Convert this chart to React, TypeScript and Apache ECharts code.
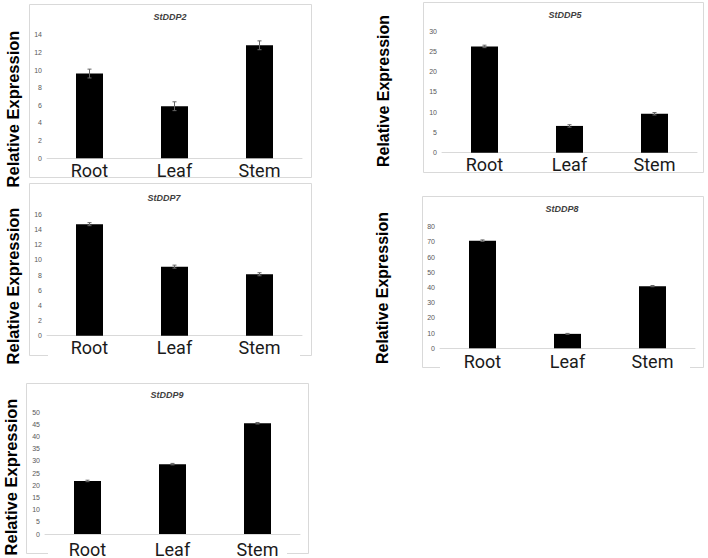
import React, { useEffect, useRef } from "react";
import * as echarts from "echarts";

const categories = ["Root", "Leaf", "Stem"];

const titles = ["StDDP2", "StDDP5", "StDDP7", "StDDP8", "StDDP9"];

const ddp2 = [9.6, 5.9, 12.8];
const err2 = [0.5, 0.5, 0.5];
const ddp5 = [26.2, 6.6, 9.6];
const err5 = [0.3, 0.3, 0.3];
const ddp7 = [14.7, 9.1, 8.1];
const err7 = [0.2, 0.2, 0.2];
const ddp8 = [70.8, 9.5, 40.9];
const err8 = [0.5, 0.3, 0.4];
const ddp9 = [21.8, 28.7, 45.5];
const err9 = [0.3, 0.3, 0.3];

const yMax = [14, 30, 16, 80, 50];
const yStep = [2, 5, 2, 10, 5];

const values = [ddp2, ddp5, ddp7, ddp8, ddp9];
const errors = [err2, err5, err7, err8, err9];

// layout (pixels)
const grids = [
  { left: 47, top: 34.7, width: 255, height: 123.6 },
  { left: 442, top: 31, width: 255, height: 121.7 },
  { left: 47, top: 214.3, width: 255, height: 121.4 },
  { left: 440, top: 226.7, width: 255, height: 121.6 },
  { left: 45, top: 412.3, width: 255, height: 121.7 },
];
const boxes = [
  { x: 29, y: 4, w: 282, h: 173 },
  { x: 423, y: 2, w: 280, h: 170 },
  { x: 29, y: 183, w: 282, h: 172 },
  { x: 422, y: 196, w: 281, h: 171 },
  { x: 26, y: 383, w: 282, h: 170 },
];
// white patches where the category labels hide the box edge
const covers = [
  { x: 48, y: 350, w: 252, h: 8 },
  { x: 440, y: 362, w: 250, h: 8 },
  { x: 48, y: 547, w: 239, h: 9 },
];
const titlePos = [
  { x: 170, y: 17 },
  { x: 565, y: 15 },
  { x: 164, y: 198 },
  { x: 562, y: 209 },
  { x: 167, y: 395 },
];
const ylabPos = [
  { x: 13, y: 109, s: 16.5 },
  { x: 383, y: 91, s: 16 },
  { x: 13, y: 286, s: 16.5 },
  { x: 382, y: 288, s: 16 },
  { x: 11, y: 477, s: 16.5 },
];
const labelMargin = [3, 3, 3, 4, 6];

export default function App() {
  const ref = useRef<HTMLDivElement>(null);
  useEffect(() => {
    if (!ref.current) return;
    const chart = echarts.init(ref.current, null, { renderer: "svg" });

    const graphic: any[] = [];
    boxes.forEach((b) => {
      graphic.push({
        type: "rect",
        shape: { x: b.x + 0.5, y: b.y + 0.5, width: b.w, height: b.h },
        style: { fill: "none", stroke: "#d9d9d9", lineWidth: 1 },
        z: -10,
        silent: true,
      });
    });
    covers.forEach((c) => {
      graphic.push({
        type: "rect",
        shape: { x: c.x, y: c.y, width: c.w, height: c.h },
        style: { fill: "#fff" },
        z: -5,
        silent: true,
      });
    });
    titlePos.forEach((p, i) => {
      graphic.push({
        type: "text",
        x: p.x,
        y: p.y,
        style: {
          text: titles[i],
          font: "italic bold 9px 'Liberation Sans', Arial, sans-serif",
          fill: "#404040",
          align: "center",
          verticalAlign: "middle",
        },
      });
    });
    ylabPos.forEach((p) => {
      graphic.push({
        type: "text",
        x: p.x,
        y: p.y,
        rotation: Math.PI / 2,
        style: {
          text: "Relative Expression",
          font: `bold ${p.s}px 'Liberation Sans', Arial, sans-serif`,
          fill: "#000",
          align: "center",
          verticalAlign: "middle",
        },
      });
    });

    const series: any[] = [];
    values.forEach((v, i) => {
      series.push({
        type: "bar",
        xAxisIndex: i,
        yAxisIndex: i,
        data: v,
        barWidth: 27,
        itemStyle: { color: "#000" },
        silent: true,
      });
      series.push({
        type: "custom",
        xAxisIndex: i,
        yAxisIndex: i,
        silent: true,
        data: v.map((val, k) => [k, val - errors[i][k], val + errors[i][k]]),
        renderItem: (params: any, api: any) => {
          const lo = api.coord([api.value(0), api.value(1)]);
          const hi = api.coord([api.value(0), api.value(2)]);
          const style = { stroke: "#666", lineWidth: 1 };
          const cw = 2;
          return {
            type: "group",
            children: [
              { type: "line", shape: { x1: hi[0], y1: hi[1], x2: lo[0], y2: lo[1] }, style },
              { type: "line", shape: { x1: hi[0] - cw, y1: hi[1], x2: hi[0] + cw, y2: hi[1] }, style },
              { type: "line", shape: { x1: lo[0] - cw, y1: lo[1], x2: lo[0] + cw, y2: lo[1] }, style },
            ],
          };
        },
        z: 5,
      });
    });

    chart.setOption({
      animation: false,
      backgroundColor: "#fff",
      grid: grids.map((g) => ({ ...g, containLabel: false })),
      xAxis: grids.map((_, i) => ({
        type: "category",
        gridIndex: i,
        data: categories,
        axisLine: { show: true, lineStyle: { color: "#d9d9d9", width: 1 } },
        axisTick: { show: false },
        splitLine: { show: false },
        axisLabel: {
          fontSize: 18,
          color: "#1a1a1a",
          fontFamily: "Roboto, 'Liberation Sans', sans-serif",
          margin: labelMargin[i],
        },
      })),
      yAxis: grids.map((_, i) => ({
        type: "value",
        gridIndex: i,
        min: 0,
        max: yMax[i],
        interval: yStep[i],
        axisLine: { show: false },
        axisTick: { show: false },
        splitLine: { show: false },
        axisLabel: {
          fontSize: 7,
          color: "#595959",
          fontFamily: "'Liberation Sans', Arial, sans-serif",
          margin: 5,
        },
      })),
      graphic,
      series,
    });
    return () => chart.dispose();
  }, []);
  return (
    <div
      ref={ref}
      style={{ position: "fixed", left: 0, top: 0, width: 708, height: 558 }}
    />
  );
}
